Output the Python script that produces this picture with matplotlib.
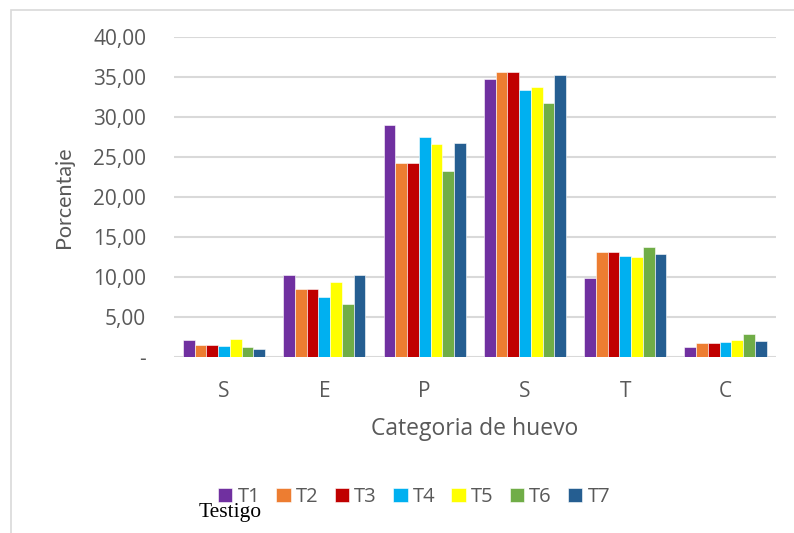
import numpy as np
import matplotlib.pyplot as plt
from matplotlib.patches import Rectangle
from matplotlib.ticker import FuncFormatter

# Porcentaje por categoria de huevo y tratamiento
categorias = ["S", "E", "P", "S", "T", "C"]
tratamientos = ["T1", "T2", "T3", "T4", "T5", "T6", "T7"]
colores = ["#7030A0", "#ED7D31", "#C00000", "#00B0F0", "#FFFF00", "#70AD47", "#255E91"]

t1 = [2.10, 10.30, 28.95, 34.75, 9.85, 1.25]
t2 = [1.55, 8.50, 24.30, 35.60, 13.10, 1.75]
t3 = [1.55, 8.50, 24.30, 35.60, 13.10, 1.75]
t4 = [1.40, 7.50, 27.45, 33.40, 12.65, 1.85]
t5 = [2.30, 9.40, 26.60, 33.70, 12.50, 2.15]
t6 = [1.25, 6.65, 23.20, 31.80, 13.70, 2.85]
t7 = [1.05, 10.30, 26.75, 35.20, 12.90, 2.05]
series = [t1, t2, t3, t4, t5, t6, t7]

GRIS = "#595959"
plt.rcParams["font.family"] = ["Open Sans", "DejaVu Sans"]

fig = plt.figure(figsize=(7.94, 5.33), dpi=100)
ax = fig.add_axes([0.219, 0.330, 0.758, 0.6006])

# borde exterior del grafico
fig.patches.append(Rectangle((11 / 794, -0.05), 1.2, 1 - 10 / 533 + 0.05,
                             transform=fig.transFigure, fill=False,
                             edgecolor="#d9d9d9", linewidth=1.2))

x = np.arange(len(categorias))
n = len(series)
ancho_grupo = 0.82
w = ancho_grupo / n
for i, (vals, nombre, col) in enumerate(zip(series, tratamientos, colores)):
    ax.bar(x - ancho_grupo / 2 + w * (i + 0.5), vals, width=w, color=col,
           edgecolor="white", linewidth=0.4, label=nombre, zorder=3)

ax.set_xlim(-0.5, len(categorias) - 0.5)
ax.set_ylim(0, 40)
ax.set_yticks(np.arange(0, 41, 5))
ax.yaxis.set_major_formatter(FuncFormatter(
    lambda v, _: "-" if v == 0 else f"{v:.2f}".replace(".", ",")))
ax.set_xticks(x)
ax.set_xticklabels(categorias)
ax.grid(axis="y", color="#d9d9d9", linewidth=1.5, zorder=0)
ax.set_axisbelow(True)
for s in ax.spines.values():
    s.set_visible(False)
ax.tick_params(length=0, labelsize=15, colors=GRIS)
ax.tick_params(axis="y", pad=20)
ax.tick_params(axis="x", pad=17)

ax.set_ylabel("Porcentaje", fontsize=15.5, color=GRIS, labelpad=14,
              family=["Lato", "DejaVu Sans"])
ax.set_xlabel("Categoria de huevo", fontsize=16.5, color=GRIS, labelpad=11)

leg = fig.legend(loc="center", bbox_to_anchor=(414 / 794, 1 - 497 / 533), ncol=7,
                 frameon=False, fontsize=14.5, handlelength=0.72, handleheight=0.72,
                 handletextpad=0.25, columnspacing=0.8, labelcolor=GRIS)

fig.text(199 / 794, 1 - 513 / 533, "Testigo", fontsize=15.5,
         family=["Liberation Serif"], color="black", va="center", ha="left")

fig.savefig("out.png", dpi=100)
